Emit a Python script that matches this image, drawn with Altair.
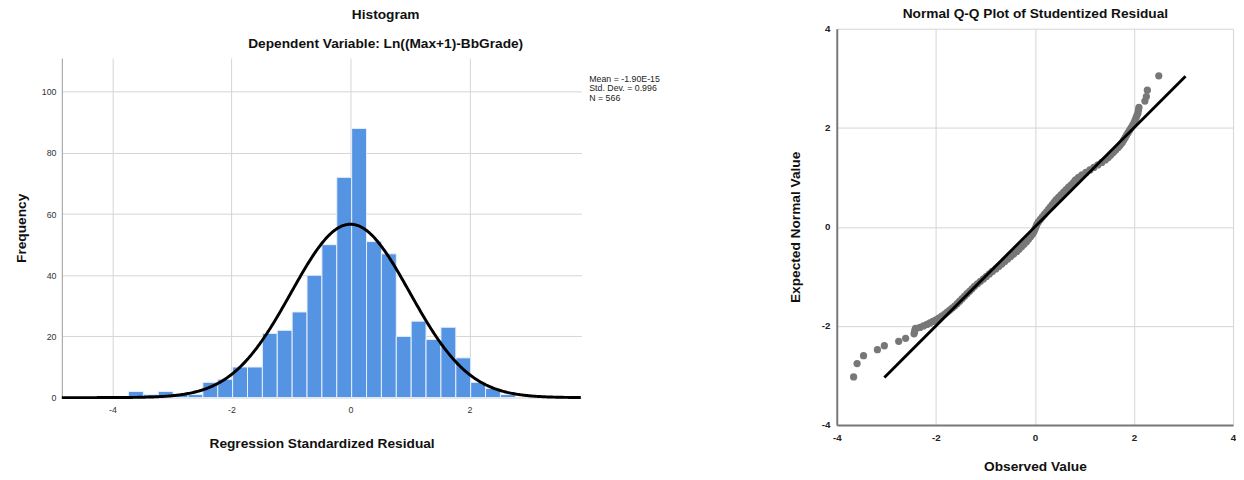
import altair as alt
import pandas as pd

# ---------------- data ----------------
BIN_LEFT = [-3.73, -3.48, -3.23, -2.98, -2.73, -2.48, -2.23, -1.98, -1.73, -1.48,
            -1.23, -0.98, -0.73, -0.48, -0.23, 0.02, 0.27, 0.52, 0.77, 1.02,
            1.27, 1.52, 1.77, 2.02, 2.27, 2.52]
COUNTS = [2, 1, 2, 1, 1, 5, 6, 10, 10, 21,
          22, 28, 40, 50, 72, 88, 51, 47, 20, 25,
          19, 23, 13, 5, 3, 1]
BIN_WIDTH = 0.25
MEAN = -1.90e-15
SD = 0.996
N = 566
STATS_TEXT = ["Mean = -1.90E-15", "Std. Dev. = 0.996", "N = 566"]
HIST_TITLE = "Histogram"
HIST_SUBTITLE = "Dependent Variable: Ln((Max+1)-BbGrade)"
QQ_TITLE = "Normal Q-Q Plot of Studentized Residual"

QQ_OBSERVED = [-3.66, -3.59, -3.46, -3.18, -3.04, -2.75, -2.61, -2.44, -2.43, -2.42, -2.41,
               -2.32, -2.25, -2.18, -2.12, -2.06, -2.00, -1.94, -1.88, -1.82, -1.77, -1.72,
               -1.67, -1.62, -1.57, -1.52, -1.47, -1.42, -1.37, -1.32, -1.27, -1.22, -1.16,
               -1.10, -1.04, -0.98, -0.92, -0.86, -0.79, -0.73, -0.67, -0.61, -0.55, -0.49,
               -0.43, -0.37, -0.32, -0.27, -0.22, -0.17, -0.13, -0.09, -0.05, -0.02, 0.00,
               0.02, 0.04, 0.07, 0.11, 0.15, 0.19, 0.23, 0.27, 0.31, 0.35, 0.39, 0.43,
               0.48, 0.53, 0.58, 0.63, 0.68, 0.73, 0.78, 0.82, 0.88, 0.95, 1.03, 1.11,
               1.19, 1.27, 1.35, 1.42, 1.48, 1.53, 1.58, 1.63, 1.68, 1.72, 1.76, 1.79,
               1.82, 1.85, 1.88, 1.91, 1.94, 1.97, 2.00, 2.02, 2.04, 2.06, 2.08, 2.09,
               2.10, 2.22, 2.25, 2.27, 2.50]
QQ_EXPECTED = [-3.03, -2.76, -2.60, -2.48, -2.40, -2.31, -2.25, -2.16, -2.12, -2.08, -2.05,
               -2.03, -2.00, -1.97, -1.94, -1.91, -1.88, -1.84, -1.80, -1.76, -1.72, -1.68,
               -1.64, -1.60, -1.55, -1.50, -1.45, -1.40, -1.35, -1.30, -1.25, -1.20, -1.15,
               -1.10, -1.05, -1.00, -0.95, -0.90, -0.85, -0.80, -0.75, -0.70, -0.65, -0.60,
               -0.55, -0.50, -0.45, -0.40, -0.35, -0.30, -0.25, -0.20, -0.15, -0.10, -0.05,
               0.00, 0.05, 0.10, 0.15, 0.20, 0.25, 0.30, 0.35, 0.40, 0.45, 0.50, 0.55,
               0.60, 0.65, 0.70, 0.75, 0.80, 0.85, 0.90, 0.95, 1.00, 1.05, 1.10, 1.15,
               1.20, 1.25, 1.30, 1.35, 1.40, 1.45, 1.50, 1.55, 1.60, 1.65, 1.70, 1.75,
               1.80, 1.85, 1.90, 1.95, 2.00, 2.05, 2.10, 2.15, 2.20, 2.25, 2.30, 2.36,
               2.41, 2.54, 2.63, 2.76, 3.05]
QQ_LINE = [-3.04, 3.04]

FONT = "Liberation Sans"
GRID = "#d4d4d4"
LABEL_EXPR = "'' + datum.value"

# ---------------- histogram ----------------
hist_df = pd.DataFrame({"left": BIN_LEFT, "count": COUNTS})
hx = alt.Scale(domain=[-4.85, 3.88], nice=False, zero=False)
hy = alt.Scale(domain=[0, 111], nice=False)

bars = alt.Chart(hist_df).transform_calculate(
    right=f"datum.left + {BIN_WIDTH}"
).mark_bar(color="#5594e3", stroke="#e8f0fb", strokeWidth=1).encode(
    x=alt.X("left:Q", scale=hx, axis=alt.Axis(
        values=[-4, -2, 0, 2], title="Regression Standardized Residual",
        labelExpr=LABEL_EXPR, labelFlush=False,
        grid=True, gridColor=GRID, domain=False, ticks=False,
        labelFont=FONT, labelFontSize=9, labelColor="#333", labelPadding=8,
        titleFont=FONT, titleFontSize=14, titleFontWeight="bold", titleColor="#111",
        titlePadding=23)),
    x2="right:Q",
    y=alt.Y("count:Q", scale=hy, axis=alt.Axis(
        values=[0, 20, 40, 60, 80, 100], title="Frequency", labelFlush=False,
        grid=True, gridColor=GRID, domainColor="#999", ticks=False,
        labelFont=FONT, labelFontSize=9, labelColor="#333", labelPadding=6,
        titleFont=FONT, titleFontSize=14, titleFontWeight="bold", titleColor="#111",
        titlePadding=13)),
    y2=alt.datum(0),
)

curve = alt.Chart(alt.sequence(-4.85, 3.885, 0.02, as_="x")).transform_calculate(
    y=f"{N}*{BIN_WIDTH}/({SD}*sqrt(2*PI))*exp(-0.5*pow((datum.x-({MEAN}))/{SD},2))"
).mark_line(color="black", strokeWidth=3).encode(
    x=alt.X("x:Q", scale=hx), y=alt.Y("y:Q", scale=hy)
)

stats = alt.Chart(pd.DataFrame({"t": ["\n".join(STATS_TEXT)]})).mark_text(
    align="left", baseline="top", font=FONT, fontSize=9, color="#222",
    lineBreak="\n", lineHeight=10,
).encode(text="t:N", x=alt.value(539), y=alt.value(17))

hist = alt.layer(bars, curve, stats).properties(width=531, height=347)

title_style = dict(font=FONT, fontSize=14, fontWeight="bold", color="#111",
                   align="center", baseline="alphabetic")
hist_title = alt.layer(
    alt.Chart(pd.DataFrame({"t": [HIST_TITLE]})).mark_text(**title_style).encode(
        text="t:N", x=alt.value(331), y=alt.value(13)),
    alt.Chart(pd.DataFrame({"t": [HIST_SUBTITLE]})).mark_text(**title_style).encode(
        text="t:N", x=alt.value(331), y=alt.value(42.5)),
).properties(width=531, height=46)

# ---------------- Q-Q plot ----------------
qq_df = pd.DataFrame({"obs": QQ_OBSERVED, "exp": QQ_EXPECTED})
line_df = pd.DataFrame({"a": QQ_LINE, "b": QQ_LINE})
qx = alt.Scale(domain=[-4, 4], nice=False)
qy = alt.Scale(domain=[-4, 4], nice=False)

qq_axis_common = dict(
    values=[-4, -2, 0, 2, 4], grid=True, gridColor=GRID, ticks=False, labelFlush=False,
    domainColor="#777", domainWidth=2, labelExpr=LABEL_EXPR,
    labelFont=FONT, labelFontSize=10, labelFontWeight="bold", labelColor="#222",
    titleFont=FONT, titleFontSize=14, titleFontWeight="bold", titleColor="#111",
)

pts = alt.Chart(qq_df).mark_circle(size=55, color="#777", opacity=1).encode(
    x=alt.X("obs:Q", scale=qx, axis=alt.Axis(title="Observed Value", labelPadding=8,
                                             titlePadding=18, **qq_axis_common)),
    y=alt.Y("exp:Q", scale=qy, axis=alt.Axis(title="Expected Normal Value", labelPadding=7,
                                             titlePadding=19, **qq_axis_common)),
)
ref = alt.Chart(line_df).mark_line(color="black", strokeWidth=3).encode(
    x=alt.X("a:Q", scale=qx), y=alt.Y("b:Q", scale=qy)
)

qq = alt.layer(pts, ref).properties(width=405, height=405)

qq_title = alt.Chart(pd.DataFrame({"t": [QQ_TITLE]})).mark_text(**title_style).encode(
    text="t:N", x=alt.value(203), y=alt.value(12)
).properties(width=405, height=11)

left_col = alt.vconcat(hist_title, hist, spacing=7)
right_col = alt.vconcat(qq_title, qq, spacing=3)

chart = alt.hconcat(left_col, right_col, spacing=131).configure_view(
    stroke=None
).properties(padding={"left": 6, "top": -7, "right": 0, "bottom": 0})

chart.save("out.html", embed_options={"renderer": "svg", "actions": False})
